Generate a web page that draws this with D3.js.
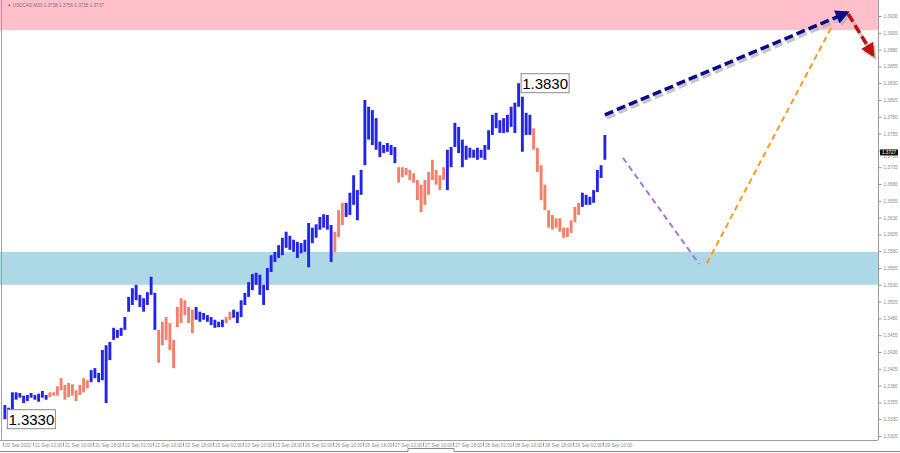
<!DOCTYPE html>
<html>
<head>
<meta charset="utf-8">
<script src="https://cdn.jsdelivr.net/npm/d3@7"></script>
<style>
  body { margin: 0; background: #fff; }
  svg { display: block; }
  text { font-family: "Liberation Sans", Arial, sans-serif; }
</style>
</head>
<body>
<svg id="chart" width="900" height="453"></svg>
<script>
// hourly bars from 20 Sep 18:00 (USDCAD)
let highs = [1.3351,1.3347,1.3370,1.3370,1.3369,1.3365,1.3366,1.3369,1.3366,1.3368,
  1.3372,1.3366,1.3370,1.3370,1.3379,1.3391,1.3381,1.3384,1.3382,1.3373,
  1.3381,1.3391,1.3388,1.3403,1.3406,1.3399,1.3433,1.3440,1.3445,1.3466,
  1.3463,1.3466,1.3482,1.3512,1.3525,1.3530,1.3515,1.3510,1.3519,1.3542,
  1.3518,1.3463,1.3475,1.3482,1.3473,1.3448,1.3497,1.3510,1.3507,1.3497,
  1.3493,1.3497,1.3490,1.3488,1.3485,1.3482,1.3478,1.3475,1.3478,1.3482,
  1.3490,1.3493,1.3490,1.3507,1.3518,1.3534,1.3546,1.3548,1.3545,1.3530,
  1.3555,1.3574,1.3579,1.3589,1.3600,1.3609,1.3603,1.3597,1.3594,1.3592,
  1.3597,1.3622,1.3615,1.3620,1.3631,1.3635,1.3634,1.3619,1.3609,1.3641,
  1.3652,1.3652,1.3667,1.3693,1.3671,1.3701,1.3805,1.3795,1.3790,1.3778,
  1.3743,1.3738,1.3741,1.3738,1.3735,1.3705,1.3705,1.3704,1.3701,1.3696,
  1.3686,1.3679,1.3686,1.3698,1.3716,1.3701,1.3693,1.3705,1.3731,1.3735,
  1.3771,1.3765,1.3746,1.3737,1.3734,1.3731,1.3734,1.3731,1.3738,1.3760,
  1.3783,1.3786,1.3775,1.3778,1.3783,1.3795,1.3801,1.3830,1.3810,1.3786,
  1.3783,1.3763,1.3734,1.3708,1.3679,1.3641,1.3634,1.3629,1.3629,1.3615,
  1.3615,1.3626,1.3646,1.3652,1.3667,1.3664,1.3661,1.3671,1.3701,1.3708,
  1.3753];
let lows = [1.3330,1.3330,1.3344,1.3359,1.3362,1.3354,1.3357,1.3362,1.3359,1.3356,
  1.3362,1.3359,1.3363,1.3365,1.3365,1.3373,1.3359,1.3363,1.3365,1.3357,
  1.3366,1.3370,1.3376,1.3385,1.3391,1.3385,1.3388,1.3354,1.3418,1.3448,
  1.3451,1.3454,1.3463,1.3490,1.3500,1.3507,1.3497,1.3490,1.3500,1.3515,
  1.3463,1.3414,1.3440,1.3448,1.3433,1.3406,1.3467,1.3473,1.3485,1.3473,
  1.3458,1.3478,1.3475,1.3478,1.3475,1.3470,1.3466,1.3467,1.3467,1.3473,
  1.3478,1.3481,1.3473,1.3482,1.3500,1.3512,1.3522,1.3530,1.3515,1.3500,
  1.3522,1.3549,1.3564,1.3570,1.3574,1.3585,1.3582,1.3579,1.3570,1.3577,
  1.3579,1.3556,1.3592,1.3600,1.3612,1.3615,1.3612,1.3564,1.3579,1.3601,
  1.3619,1.3631,1.3634,1.3649,1.3626,1.3664,1.3708,1.3746,1.3738,1.3731,
  1.3720,1.3726,1.3728,1.3723,1.3711,1.3682,1.3690,1.3693,1.3686,1.3682,
  1.3656,1.3638,1.3649,1.3664,1.3686,1.3679,1.3671,1.3686,1.3671,1.3705,
  1.3735,1.3726,1.3705,1.3716,1.3719,1.3719,1.3716,1.3719,1.3716,1.3731,
  1.3753,1.3763,1.3756,1.3756,1.3757,1.3765,1.3756,1.3795,1.3728,1.3753,
  1.3753,1.3731,1.3698,1.3656,1.3641,1.3615,1.3612,1.3615,1.3609,1.3600,
  1.3601,1.3607,1.3623,1.3634,1.3646,1.3649,1.3649,1.3652,1.3668,1.3689,
  1.3716];
// wave segments: first bar, last bar, direction
let waves = [[0,11,"up"],[12,22,"down"],[23,40,"up"],[41,50,"down"],[51,58,"up"],
  [59,60,"down"],[61,87,"up"],[88,90,"down"],[91,104,"up"],[105,117,"down"],
  [118,140,"up"],[141,153,"down"],[154,160,"up"]];

let timeLabels = ["20 Sep 2022","21 Sep 02:00","21 Sep 10:00","21 Sep 18:00","22 Sep 02:00",
  "22 Sep 10:00","22 Sep 18:00","23 Sep 02:00","23 Sep 10:00","23 Sep 18:00","26 Sep 02:00",
  "26 Sep 10:00","26 Sep 18:00","27 Sep 02:00","27 Sep 10:00","27 Sep 18:00","28 Sep 02:00",
  "28 Sep 10:00","28 Sep 18:00","29 Sep 02:00","29 Sep 10:00"];
let priceTicks = [1.3305,1.3330,1.3355,1.3380,1.3405,1.3430,1.3455,1.3480,1.3505,1.3530,
  1.3555,1.3580,1.3605,1.3630,1.3655,1.3680,1.3705,1.3730,1.3755,1.3780,1.3805,1.3830,
  1.3855,1.3880,1.3905,1.3930];

let resistZone = [1.3909, 1.3965];
let supportZone = [1.3530, 1.3579];
let markedPrices = [[0, 1.3330], [137, 1.3830]];
let lastPrice = 1.3727;

// forecast paths: [hour, price]
let bullPath = [[160.5, 1.3783], [225.1, 1.3935]];
let bearPath = [[225.4, 1.3933], [232.0, 1.3872]];
let dropPath = [[165.3, 1.3719], [185.6, 1.3561]];
let risePath = [[187.7, 1.3562], [220.8, 1.3912]];

let svg = d3.select("#chart");
let x = d3.scaleLinear().domain([0, 232]).range([3, 873]);
let y = d3.scaleLinear().domain([1.3305, 1.3930]).range([436, 16]);
let axisX = 878, axisY = 440;

let defs = svg.append("defs");
defs.append("clipPath").attr("id", "plot")
    .append("rect").attr("x", 0).attr("y", 0).attr("width", axisX).attr("height", axisY);
[["navyHead", "#0b0b8a", 12], ["redHead", "#c30f0f", 12], ["shadowHead", "#b0b0b0", 12]]
  .forEach(([id, col, s]) => {
    defs.append("marker").attr("id", id)
        .attr("viewBox", "0 0 10 10").attr("refX", 8).attr("refY", 5)
        .attr("markerUnits", "userSpaceOnUse")
        .attr("markerWidth", s + 3).attr("markerHeight", s + 2)
        .attr("orient", "auto")
        .append("path").attr("d", "M0,0 L10,5 L0,10 Z").attr("fill", col);
  });

let plot = svg.append("g").attr("clip-path", "url(#plot)");

// zones
plot.append("rect")
    .attr("x", 0).attr("width", axisX)
    .attr("y", y(resistZone[1])).attr("height", y(resistZone[0]) - y(resistZone[1]))
    .attr("fill", "#ffc0cb");
plot.append("rect")
    .attr("x", 0).attr("width", axisX)
    .attr("y", y(supportZone[1])).attr("height", y(supportZone[0]) - y(supportZone[1]))
    .attr("fill", "#add8e6");

// bars
let dirOf = i => waves.find(w => i >= w[0] && i <= w[1])[2];
plot.selectAll(".bar")
    .data(highs.map((h, i) => ({i: i, h: h, l: lows[i]})))
    .enter()
    .append("line")
    .attr("class", "bar")
    .attr("x1", d => x(d.i + 0.5))
    .attr("x2", d => x(d.i + 0.5))
    .attr("y1", d => y(d.h))
    .attr("y2", d => Math.max(y(d.l), y(d.h) + 2))
    .attr("stroke", d => dirOf(d.i) == "up" ? "#2424e8" : "#f4806a")
    .attr("stroke-width", 2.9);

// forecast lines
function path(pts, dx, dy) {
  return d3.line().x(d => x(d[0]) + dx).y(d => y(d[1]) + dy)(pts);
}
plot.append("path").attr("d", path(dropPath, 0, 0))
    .attr("stroke", "#a57ad6").attr("stroke-width", 2)
    .attr("stroke-dasharray", "6,4").attr("fill", "none");
plot.append("path").attr("d", path(risePath, 0, 0))
    .attr("stroke", "#ff9a1a").attr("stroke-width", 2)
    .attr("stroke-dasharray", "6,4").attr("fill", "none");

[[bullPath, "#0b0b8a", "navyHead"], [bearPath, "#c30f0f", "redHead"]].forEach(([p, col, head]) => {
  plot.append("path").attr("d", path(p, 2, 3))
      .attr("stroke", "#b0b0b0").attr("stroke-width", 3.5).attr("opacity", 0.7)
      .attr("stroke-dasharray", "9,4").attr("fill", "none")
      .attr("marker-end", "url(#shadowHead)");
  plot.append("path").attr("d", path(p, 0, 0))
      .attr("stroke", col).attr("stroke-width", 3.5)
      .attr("stroke-dasharray", "9,4").attr("fill", "none")
      .attr("marker-end", "url(#" + head + ")");
});

// marked extremes
markedPrices.forEach(([i, p]) => {
  let g = svg.append("g").attr("transform", "translate(" + (x(i + 0.5) + 2.5) + "," + y(p) + ")");
  g.append("rect").attr("x", 0).attr("y", -9.5).attr("width", 48).attr("height", 19)
      .attr("fill", "#fff").attr("stroke", "#8a8a8a").attr("stroke-width", 1);
  g.append("text").attr("x", 24).attr("y", 5.5).attr("text-anchor", "middle")
      .attr("font-size", 15).attr("fill", "#000").text(p.toFixed(4));
});

// frame
svg.append("line").attr("x1", 1.5).attr("x2", 1.5).attr("y1", 0).attr("y2", axisY)
    .attr("stroke", "#a0a0a0");
svg.append("line").attr("x1", 0).attr("x2", axisX).attr("y1", axisY + 0.5).attr("y2", axisY + 0.5)
    .attr("stroke", "#a0a0a0");
svg.append("path").attr("d", "M0,451.5 H408 V448.5 H454 V451.5 H900")
    .attr("stroke", "#8a8a8a").attr("fill", "none");

// right price axis
let yAxis = svg.append("g")
    .attr("transform", "translate(" + (axisX + 0.5) + ",0)")
    .call(d3.axisRight(y).tickValues(priceTicks).tickSize(3).tickPadding(2).tickFormat(d3.format(".4f")));
yAxis.select(".domain").attr("stroke", "#9a9a9a").attr("d", "M0,0 V" + axisY);
yAxis.selectAll(".tick line").attr("stroke", "#9a9a9a");
yAxis.selectAll(".tick text").attr("font-size", 4.6).attr("fill", "#8a8a8a")
    .attr("font-family", "Liberation Sans, Arial, sans-serif")
    .attr("dy", d => Math.abs(y(d) - y(lastPrice)) < 6 ? "1.6em" : "0.32em");

// current price marker
let cp = svg.append("g").attr("transform", "translate(" + (axisX + 2) + "," + y(lastPrice) + ")");
cp.append("rect").attr("x", 0).attr("y", -3).attr("width", 18).attr("height", 6).attr("fill", "#111");
cp.append("text").attr("x", 2).attr("y", 1.8).attr("font-size", 4.6).attr("fill", "#fff")
    .text(lastPrice.toFixed(4));

// bottom time axis
let xAxis = svg.append("g")
    .attr("transform", "translate(0," + (axisY + 0.5) + ")")
    .call(d3.axisBottom(x).tickValues(timeLabels.map((t, i) => i * 8)).tickSize(6)
      .tickFormat((d, i) => timeLabels[i]));
xAxis.select(".domain").remove();
xAxis.selectAll(".tick line").attr("stroke", "#9a9a9a").attr("y1", 2);
xAxis.selectAll(".tick text").attr("font-size", 4.6).attr("fill", "#8a8a8a")
    .attr("text-anchor", "start").attr("dx", 1.5).attr("y", 3).attr("dy", "0.71em")
    .attr("font-family", "Liberation Sans, Arial, sans-serif");

// chart header
svg.append("text").attr("x", 7).attr("y", 6.5).attr("font-size", 4.6).attr("fill", "#777")
    .text("\u25BC USDCAD,M30  1.3738 1.3756 1.3735 1.3737");
</script>
</body>
</html>
